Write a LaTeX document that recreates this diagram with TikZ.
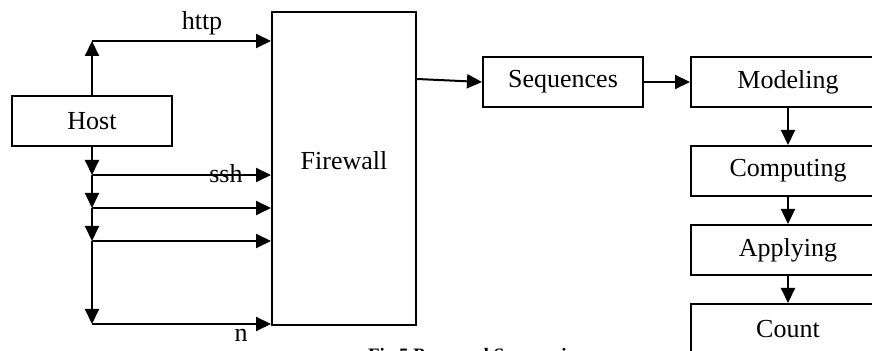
\documentclass[tikz,border=0pt]{standalone}
\usepackage{fontspec}
\setmainfont{Liberation Serif}
\usetikzlibrary{positioning, arrows.meta, calc}

\begin{document}
\begin{tikzpicture}[x=0.5pt, y=-0.5pt, line width=1pt,
  box/.style={draw, rectangle, inner sep=0pt, minimum width=80pt, minimum height=25pt, font=\fontsize{13}{15}\selectfont},
  stagebox/.style={box, minimum width=97pt},
  lbl/.style={inner sep=0pt, font=\fontsize{13}{15}\selectfont},
  >={Triangle[length=7.5pt, width=7pt]}]
  \useasboundingbox[clip] (0,0) rectangle (872,351);

  % boxes
  \node[box] (host) at (92,121.5) {Host};
  \node[box, minimum width=72pt, minimum height=156.5pt] (fw) at (344,168.5) {};
  \node[lbl] (fwlbl) at (344,161) {Firewall};
  \node[box] (seq) at (563,82) {Sequences};
  \node[stagebox, right=23pt of seq] (model) {Modeling};
  \node[stagebox, below=18.5pt of model] (comp) {Computing};
  \node[stagebox, below=13.5pt of comp] (apply) {Applying};
  \node[stagebox, below=13.5pt of apply] (count) {Count};

  % branch points of the host lines
  \coordinate (up) at (92,41);
  \foreach \n/\y in {1/175, 2/208, 3/241, 4/324}
    \coordinate (tap\n) at (92,\y);

  \draw[->] (host.north) -- (up);
  \draw[->] (up) -- (up -| fw.west);
  \draw[->] (host.south) -- (tap1);
  \draw[->] (tap1) -- (tap2);
  \draw[->] (tap2) -- (tap3);
  \draw[->] (tap3) -- (tap4);
  \foreach \n in {1,...,4}
    \draw[->] (tap\n) -- (tap\n -| fw.west);

  \node[lbl] (http) at (202,23) {http};
  \node[lbl] (ssh) at (226,174) {ssh};
  \node[lbl] (n) at (241,335) {n};

  % pipeline
  \draw[->] ($(fw.north east)+(0,68)$) -- (seq.west);
  \draw[->] (seq) -- (model);
  \draw[->] (model) -- (comp);
  \draw[->] (comp) -- (apply);
  \draw[->] (apply) -- (count);

  \node[anchor=north west, inner sep=0pt, font=\fontsize{9.5}{11}\selectfont\bfseries] (cap) at (367,347) {Fig 5 Proposed Sequencing};
\end{tikzpicture}
\end{document}
